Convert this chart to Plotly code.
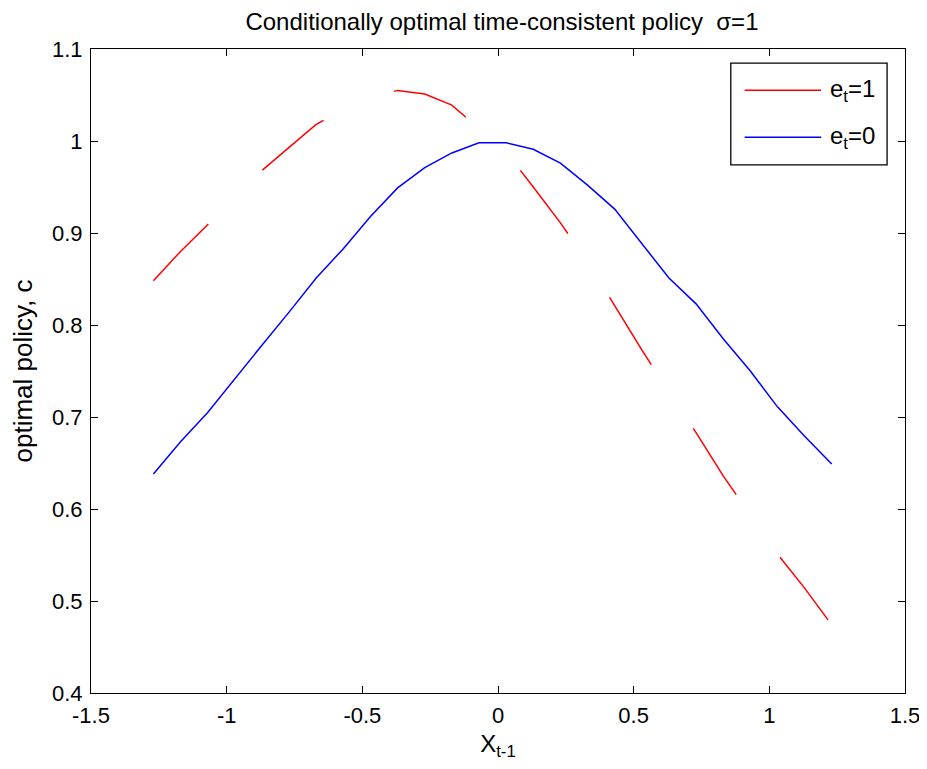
import plotly.graph_objects as go

# ---- data ----
x_grid = [-1.27, -1.17, -1.07, -0.97, -0.87, -0.77, -0.67, -0.57, -0.47, -0.37,
          -0.27, -0.17, -0.07, 0.03, 0.13, 0.23, 0.33, 0.43, 0.53, 0.63,
          0.73, 0.83, 0.93, 1.03, 1.13, 1.23]

c_e1 = [0.848, 0.880, 0.909, 0.939, 0.968, 0.993, 1.018, 1.034, 1.047, 1.055,
        1.051, 1.039, 1.013, 0.988, 0.950, 0.911, 0.869, 0.821, 0.773, 0.727,
        0.683, 0.636, 0.594, 0.551, 0.514, 0.474]

c_e0 = [0.638, 0.673, 0.705, 0.742, 0.778, 0.814, 0.851, 0.883, 0.918, 0.949,
        0.971, 0.987, 0.998, 0.998, 0.991, 0.976, 0.952, 0.926, 0.889, 0.851,
        0.823, 0.785, 0.750, 0.711, 0.679, 0.649]

x_tickvals = [-1.5, -1, -0.5, 0, 0.5, 1, 1.5]
x_ticktext = ["-1.5", "-1", "-0.5", "0", "0.5", "1", "1.5"]
y_tickvals = [0.4, 0.5, 0.6, 0.7, 0.8, 0.9, 1.0, 1.1]
y_ticktext = ["0.4", "0.5", "0.6", "0.7", "0.8", "0.9", "1", "1.1"]

series_names = ["e<sub>t</sub>=1", "e<sub>t</sub>=0"]
series_colors = ["#ff0000", "#0000ff"]

FONT = "Liberation Sans, Arial, sans-serif"
LW = 1.5

fig = go.Figure()
fig.add_trace(go.Scatter(x=x_grid, y=c_e1, mode="lines", name=series_names[0],
                         line=dict(color=series_colors[0], width=LW, dash="79px,76.4px"),
                         showlegend=False))
fig.add_trace(go.Scatter(x=x_grid, y=c_e0, mode="lines", name=series_names[1],
                         line=dict(color=series_colors[1], width=LW),
                         showlegend=False))

# manual legend (MATLAB style)
fig.add_shape(type="rect", xref="paper", yref="paper",
              x0=0.786, x1=0.978, y0=0.820, y1=0.978,
              line=dict(color="black", width=1.3), fillcolor="white", layer="above")
leg_y = [0.936, 0.863]
for name, col, yy in zip(series_names, series_colors, leg_y):
    fig.add_shape(type="line", xref="paper", yref="paper",
                  x0=0.803, x1=0.897, y0=yy, y1=yy,
                  line=dict(color=col, width=LW), layer="above")
    fig.add_annotation(xref="paper", yref="paper", x=0.905, y=yy,
                       text=name, showarrow=False, xanchor="left", yanchor="middle",
                       font=dict(family=FONT, size=24, color="black"))

fig.update_layout(
    template="none",
    width=919, height=761,
    margin=dict(l=83, r=22, t=41, b=76, autoexpand=False),
    paper_bgcolor="white", plot_bgcolor="white",
    font=dict(family=FONT, size=20, color="black"),
    title=dict(text="Conditionally optimal time-consistent policy  \u03c3=1",
               x=0.5375, xanchor="center", y=0.9816, yanchor="middle",
               font=dict(family=FONT, size=24, color="black")),
    showlegend=False,
)
fig.update_xaxes(range=[-1.5, 1.5], tickvals=x_tickvals, ticktext=x_ticktext,
                 automargin=False,
                 showline=True, linecolor="black", linewidth=1, mirror="ticks",
                 ticks="inside", ticklen=7, tickcolor="black", tickwidth=1,
                 showgrid=False, zeroline=False, ticklabelstandoff=3,
                 tickfont=dict(family=FONT, size=22),
                 title=dict(text="X<sub>t-1</sub>", font=dict(family=FONT, size=24), standoff=7))
fig.update_yaxes(range=[0.4, 1.1], tickvals=y_tickvals, ticktext=y_ticktext,
                 automargin=False,
                 showline=True, linecolor="black", linewidth=1, mirror="ticks",
                 ticks="inside", ticklen=7, tickcolor="black", tickwidth=1,
                 showgrid=False, zeroline=False, ticklabelstandoff=3,
                 tickfont=dict(family=FONT, size=22),
                 title=dict(text="optimal policy, c", font=dict(family=FONT, size=26), standoff=12))

fig.write_html("out.html")
